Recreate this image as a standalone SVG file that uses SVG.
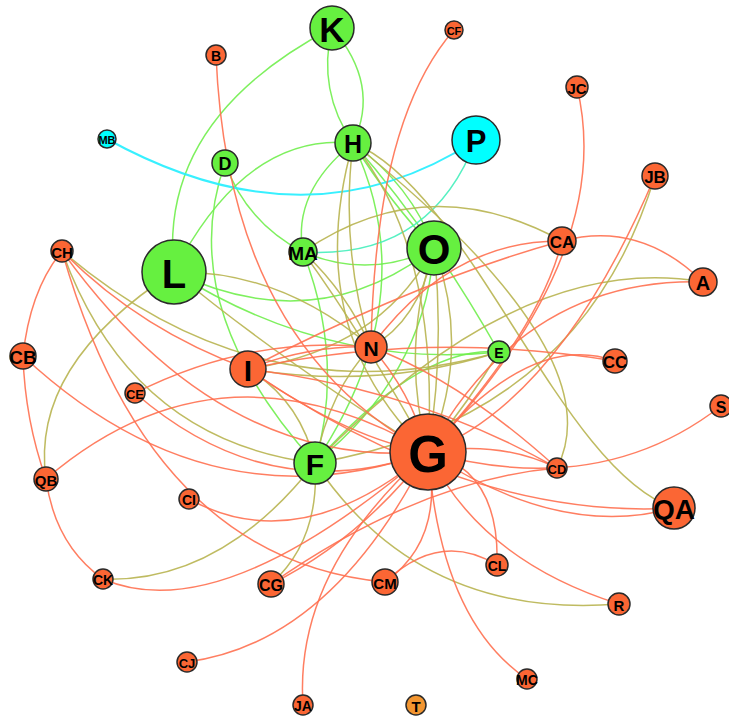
<svg xmlns="http://www.w3.org/2000/svg" width="729" height="719" viewBox="0 0 729 719">
  <style>
    .e { fill: none; stroke-width: 1.5; stroke-opacity: 0.9; }
    .r { stroke: #ff7050; }
    .o { stroke: #b8b450; }
    .g { stroke: #70ee4c; }
    .c { stroke: #22eeff; stroke-width: 2; }
    .t { stroke: #44eebb; }
    .n circle { stroke: #2a2a2a; stroke-width: 1.5; }
    .org circle { fill: #fb6634; }
    .grn circle { fill: #66f040; }
    .cyn circle { fill: #00ffff; }
    .n text { font-family: "Liberation Sans", Arial, sans-serif; font-weight: bold; fill: #000; text-anchor: middle; dominant-baseline: central; }
  </style>
  <rect width="729" height="719" fill="#ffffff"/>

  <g id="edges">
    <!-- green links -->
    <path class="e g" d="M332,28 Q157,120 174,272"/>
    <path class="e g" d="M332,28 Q317,91 353,143"/>
    <path class="e g" d="M332,28 Q381,85 353,143"/>
    <path class="e g" d="M353,143 Q246,132 174,272"/>
    <path class="e g" d="M353,143 Q292,192 303,252"/>
    <path class="e g" d="M225,163 Q246,222 303,252"/>
    <path class="e g" d="M225,163 Q174,307 315,463"/>
    <path class="e g" d="M353,143 Q392,205 434,248"/>
    <path class="e g" d="M353,143 Q412,186 434,248"/>
    <path class="e g" d="M353,143 Q430,230 499,352"/>
    <path class="e g" d="M353,143 Q426,297 315,463"/>
    <path class="e g" d="M303,252 Q345,360 315,463"/>
    <path class="e g" d="M434,248 Q425,375 315,463"/>
    <path class="e g" d="M499,352 Q420,345 315,463"/>
    <path class="e g" d="M174,272 Q316,340 434,248"/>
    <path class="e g" d="M174,272 Q330,370 499,352"/>
    <path class="e g" d="M434,248 Q370,280 303,252"/>
    <!-- cyan and teal links -->
    <path class="e c" d="M107,139 Q308,250 476,140"/>
    <path class="e t" d="M476,140 Q430,260 303,252"/>
    <!-- olive links -->
    <path class="e o" d="M655,176 Q580,420 315,463"/>
    <path class="e o" d="M703,282 Q520,250 315,463"/>
    <path class="e o" d="M353,143 Q615,354 557,468"/>
    <path class="e o" d="M353,143 C470,190 560,470 674,508"/>
    <path class="e o" d="M303,252 Q427,167 562,241"/>
    <path class="e o" d="M353,143 Q300,330 428,452"/>
    <path class="e o" d="M353,143 Q440,250 428,452"/>
    <path class="e o" d="M174,272 Q280,360 428,452"/>
    <path class="e o" d="M174,272 Q280,270 371,347"/>
    <path class="e o" d="M46,479 Q30,365 174,272"/>
    <path class="e o" d="M62,251 Q130,440 315,463"/>
    <path class="e o" d="M62,251 Q260,420 499,352"/>
    <path class="e o" d="M103,579 Q221,583 315,463"/>
    <path class="e o" d="M434,248 Q472,350 428,452"/>
    <path class="e o" d="M434,248 Q400,350 428,452"/>
    <path class="e o" d="M434,248 Q445,350 428,452"/>
    <path class="e o" d="M371,347 Q330,390 315,463"/>
    <path class="e o" d="M371,347 Q420,320 434,248"/>
    <path class="e o" d="M303,252 Q345,290 371,347"/>
    <path class="e o" d="M353,143 Q340,250 371,347"/>
    <path class="e o" d="M248,369 Q300,400 315,463"/>
    <path class="e o" d="M248,369 Q380,350 434,248"/>
    <path class="e o" d="M499,352 Q470,400 428,452"/>
    <path class="e o" d="M248,369 Q380,390 499,352"/>
    <path class="e o" d="M303,252 Q360,330 428,452"/>
    <path class="e o" d="M315,463 Q420,620 619,604"/>
    <path class="e o" d="M271,584 Q320,540 315,463"/>
    <!-- orange links -->
    <path class="e r" d="M216,55 Q228,346 428,452"/>
    <path class="e r" d="M454,30 Q375,120 371,347"/>
    <path class="e r" d="M577,87 Q617,254 428,452"/>
    <path class="e r" d="M655,176 Q560,400 428,452"/>
    <path class="e r" d="M703,282 Q524,277 428,452"/>
    <path class="e r" d="M562,241 Q640,220 703,282"/>
    <path class="e r" d="M371,347 Q450,240 562,241"/>
    <path class="e r" d="M562,241 Q540,330 428,452"/>
    <path class="e r" d="M615,361 Q530,330 428,452"/>
    <path class="e r" d="M721,406 Q600,500 428,452"/>
    <path class="e r" d="M557,468 Q500,440 428,452"/>
    <path class="e r" d="M674,508 Q560,540 428,452"/>
    <path class="e r" d="M248,369 Q470,520 674,508"/>
    <path class="e r" d="M271,584 Q420,480 557,468"/>
    <path class="e r" d="M371,347 Q410,390 428,452"/>
    <path class="e r" d="M248,369 Q420,390 557,468"/>
    <path class="e r" d="M248,369 Q350,440 428,452"/>
    <path class="e r" d="M248,369 Q310,345 371,347"/>
    <path class="e r" d="M248,369 Q430,330 615,361"/>
    <path class="e r" d="M62,251 Q30,290 23,356"/>
    <path class="e r" d="M23,356 Q25,420 46,479"/>
    <path class="e r" d="M23,356 Q210,530 428,452"/>
    <path class="e r" d="M46,479 Q55,545 103,579"/>
    <path class="e r" d="M46,479 Q220,330 428,452"/>
    <path class="e r" d="M62,251 Q150,560 385,582"/>
    <path class="e r" d="M62,251 Q140,330 248,369"/>
    <path class="e r" d="M62,251 Q220,470 428,452"/>
    <path class="e r" d="M135,393 Q250,335 371,347"/>
    <path class="e r" d="M135,393 Q270,510 428,452"/>
    <path class="e r" d="M189,499 Q300,560 428,452"/>
    <path class="e r" d="M103,579 Q220,630 428,452"/>
    <path class="e r" d="M271,584 Q360,540 428,452"/>
    <path class="e r" d="M385,582 Q445,540 428,452"/>
    <path class="e r" d="M385,582 Q440,530 497,565"/>
    <path class="e r" d="M187,662 Q332,643 428,452"/>
    <path class="e r" d="M303,705 Q294,571 428,452"/>
    <path class="e r" d="M428,452 Q440,620 527,679"/>
    <path class="e r" d="M428,452 Q500,470 497,565"/>
    <path class="e r" d="M428,452 Q480,560 619,604"/>
    <path class="e r" d="M371,347 Q460,380 557,468"/>
    <path class="e r" d="M562,241 Q420,280 248,369"/>
  </g>

  <g id="node-K" class="n grn"><circle cx="332" cy="28" r="22"/><text x="332" y="29" font-size="35">K</text></g>
  <g id="node-CF" class="n org"><circle cx="454" cy="30" r="9"/><text x="454" y="31" font-size="11">CF</text></g>
  <g id="node-B" class="n org"><circle cx="216" cy="55" r="10"/><text x="216" y="56" font-size="14">B</text></g>
  <g id="node-JC" class="n org"><circle cx="577" cy="87" r="11"/><text x="577" y="88" font-size="15">JC</text></g>
  <g id="node-H" class="n grn"><circle cx="353" cy="143" r="18"/><text x="353" y="144" font-size="25">H</text></g>
  <g id="node-P" class="n cyn"><circle cx="476" cy="140" r="24"/><text x="476" y="141" font-size="31">P</text></g>
  <g id="node-MB" class="n cyn"><circle cx="107" cy="139" r="9"/><text x="107" y="140" font-size="11">MB</text></g>
  <g id="node-D" class="n grn"><circle cx="225" cy="163" r="13"/><text x="225" y="164" font-size="18">D</text></g>
  <g id="node-JB" class="n org"><circle cx="655" cy="176" r="13"/><text x="655" y="177" font-size="17">JB</text></g>
  <g id="node-CH" class="n org"><circle cx="62" cy="251" r="11"/><text x="62" y="252" font-size="15">CH</text></g>
  <g id="node-L" class="n grn"><circle cx="174" cy="272" r="32"/><text x="174" y="274" font-size="40">L</text></g>
  <g id="node-MA" class="n grn"><circle cx="303" cy="252" r="14"/><text x="303" y="253" font-size="19">MA</text></g>
  <g id="node-O" class="n grn"><circle cx="434" cy="248" r="27"/><text x="434" y="249" font-size="42">O</text></g>
  <g id="node-CA" class="n org"><circle cx="562" cy="241" r="14"/><text x="562" y="242" font-size="17">CA</text></g>
  <g id="node-A" class="n org"><circle cx="703" cy="282" r="14"/><text x="703" y="283" font-size="20">A</text></g>
  <g id="node-CB" class="n org"><circle cx="23" cy="356" r="13"/><text x="23" y="357" font-size="19">CB</text></g>
  <g id="node-N" class="n org"><circle cx="371" cy="347" r="16"/><text x="371" y="348" font-size="21">N</text></g>
  <g id="node-E" class="n grn"><circle cx="499" cy="352" r="11"/><text x="499" y="353" font-size="14">E</text></g>
  <g id="node-I" class="n org"><circle cx="248" cy="369" r="18"/><text x="248" y="370" font-size="30">I</text></g>
  <g id="node-CC" class="n org"><circle cx="615" cy="361" r="12"/><text x="615" y="362" font-size="17">CC</text></g>
  <g id="node-CE" class="n org"><circle cx="135" cy="393" r="10"/><text x="135" y="394" font-size="13">CE</text></g>
  <g id="node-S" class="n org"><circle cx="721" cy="406" r="11"/><text x="721" y="407" font-size="16">S</text></g>
  <g id="node-G" class="n org"><circle cx="428" cy="452" r="38"/><text x="428" y="454" font-size="51">G</text></g>
  <g id="node-F" class="n grn"><circle cx="315" cy="463" r="21"/><text x="315" y="464" font-size="30">F</text></g>
  <g id="node-CD" class="n org"><circle cx="557" cy="468" r="10"/><text x="557" y="469" font-size="13">CD</text></g>
  <g id="node-QB" class="n org"><circle cx="46" cy="479" r="12"/><text x="46" y="480" font-size="15">QB</text></g>
  <g id="node-CI" class="n org"><circle cx="189" cy="499" r="10"/><text x="189" y="500" font-size="14">CI</text></g>
  <g id="node-QA" class="n org"><circle cx="674" cy="508" r="21"/><text x="674" y="509" font-size="28">QA</text></g>
  <g id="node-CL" class="n org"><circle cx="497" cy="565" r="11"/><text x="497" y="566" font-size="14">CL</text></g>
  <g id="node-CK" class="n org"><circle cx="103" cy="579" r="10"/><text x="103" y="580" font-size="14">CK</text></g>
  <g id="node-CG" class="n org"><circle cx="271" cy="584" r="13"/><text x="271" y="585" font-size="16">CG</text></g>
  <g id="node-CM" class="n org"><circle cx="385" cy="582" r="13"/><text x="385" y="583" font-size="15">CM</text></g>
  <g id="node-R" class="n org"><circle cx="619" cy="604" r="11"/><text x="619" y="605" font-size="15">R</text></g>
  <g id="node-CJ" class="n org"><circle cx="187" cy="662" r="10"/><text x="187" y="663" font-size="13">CJ</text></g>
  <g id="node-JA" class="n org"><circle cx="303" cy="705" r="10"/><text x="303" y="706" font-size="14">JA</text></g>
  <g id="node-T" class="n"><circle cx="416" cy="705" r="10" fill="#f29530"/><text x="416" y="706" font-size="15">T</text></g>
  <g id="node-MC" class="n org"><circle cx="527" cy="679" r="10"/><text x="527" y="680" font-size="14">MC</text></g>
</svg>
